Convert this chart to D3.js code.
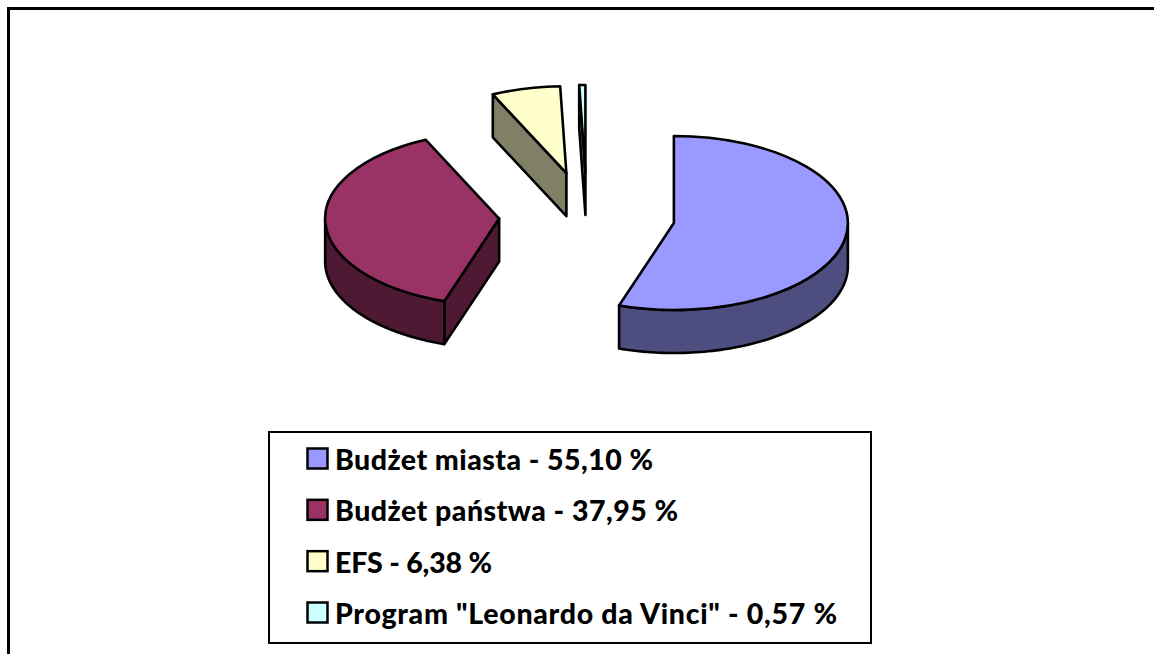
<!DOCTYPE html>
<html lang="pl">
<head>
<meta charset="utf-8">
<script src="https://cdn.jsdelivr.net/npm/d3@7"></script>
<style>html,body{margin:0;padding:0;background:#fff;overflow:hidden}svg{display:block}</style>
</head>
<body>
<svg id="c" width="1154" height="654"></svg>
<script>
const categories = ["Budżet miasta", "Budżet państwa", "EFS", 'Program "Leonardo da Vinci"'];
const values = [55.10, 37.95, 6.38, 0.57];
const valueLabels = ["55,10", "37,95", "6,38", "0,57"];
const topColors = ["#9999FF", "#993366", "#FFFFCC", "#CCFFFF"];
const sideColors = ["#4D4D80", "#4D1933", "#808066", "#668080"];

const svg = d3.select("#c");
const W = 1154, H = 654;
const cx = 587, cy = 216, R = 174, tilt = 0.5, depth = 43, explode = 88;
const TAU = Math.PI * 2;
const strokeW = 2.6;
const legendTextWidths = [318, 343, 157, 502];

svg.append("path")
  .attr("d", `M8.5,${H + 4}V8.5H${W + 4}`)
  .attr("fill", "none").attr("stroke", "#000").attr("stroke-width", 3);

const arcs = d3.pie().sort(null).value(d => d).startAngle(0).endAngle(TAU)(values);
const arcGen = d3.arc().innerRadius(0).outerRadius(R);
const line = d3.line();
const pie = svg.append("g").attr("stroke-linejoin", "round");

function pt(a, c, dz = 0) {
  return [c[0] + R * Math.sin(a), c[1] - R * tilt * Math.cos(a) + dz];
}
function outerWall(a0, a1, c) {
  const lo = Math.max(a0, Math.PI / 2), hi = Math.min(a1, Math.PI * 1.5);
  if (hi <= lo) return null;
  const angles = d3.range(0, 81).map(i => lo + (hi - lo) * i / 80);
  const top = angles.map(a => pt(a, c));
  const bottom = angles.slice().reverse().map(a => pt(a, c, depth));
  return line(top.concat(bottom)) + "Z";
}

arcs.forEach((s, i) => {
  const mid = (s.startAngle + s.endAngle) / 2;
  const c = [cx + explode * Math.sin(mid), cy - explode * tilt * Math.cos(mid)];
  const g = pie.append("g").attr("class", "slice");
  const side = (d) => g.append("path").attr("d", d)
    .attr("fill", sideColors[i]).attr("stroke", "#000").attr("stroke-width", strokeW);

  if (Math.sin(s.startAngle) < 0) {
    const p = pt(s.startAngle, c);
    side(line([c, p, [p[0], p[1] + depth], [c[0], c[1] + depth]]) + "Z");
  }
  if (Math.sin(s.endAngle) > 1e-6) {
    const p = pt(s.endAngle, c);
    side(line([c, p, [p[0], p[1] + depth], [c[0], c[1] + depth]]) + "Z");
  }
  const wall = outerWall(s.startAngle, s.endAngle, c);
  if (wall) side(wall);

  g.append("path")
    .attr("d", arcGen(s))
    .attr("transform", `translate(${c[0]},${c[1]}) scale(1,${tilt})`)
    .attr("vector-effect", "non-scaling-stroke")
    .attr("fill", topColors[i]).attr("stroke", "#000").attr("stroke-width", strokeW);
});

const legend = svg.append("g");
legend.append("rect")
  .attr("x", 269).attr("y", 432).attr("width", 602).attr("height", 211)
  .attr("fill", "#fff").attr("stroke", "#000").attr("stroke-width", 2);

const rowY = d3.scalePoint().domain(d3.range(categories.length)).range([470, 624]);
const rows = legend.selectAll("g.row").data(categories).join("g").attr("class", "row");
rows.append("rect")
  .attr("x", 307.5).attr("y", (d, i) => rowY(i) - 21.5).attr("width", 20).attr("height", 20)
  .attr("fill", (d, i) => topColors[i]).attr("stroke", "#000").attr("stroke-width", 2.5);
rows.append("text")
  .attr("x", 335).attr("y", (d, i) => rowY(i))
  .attr("font-family", "Lato, sans-serif").attr("font-weight", 900).attr("font-size", 28.5)
  .attr("fill", "#000")
  .attr("textLength", (d, i) => legendTextWidths[i])
  .attr("lengthAdjust", "spacing")
  .text((d, i) => `${d} - ${valueLabels[i]} %`);
</script>
</body>
</html>
